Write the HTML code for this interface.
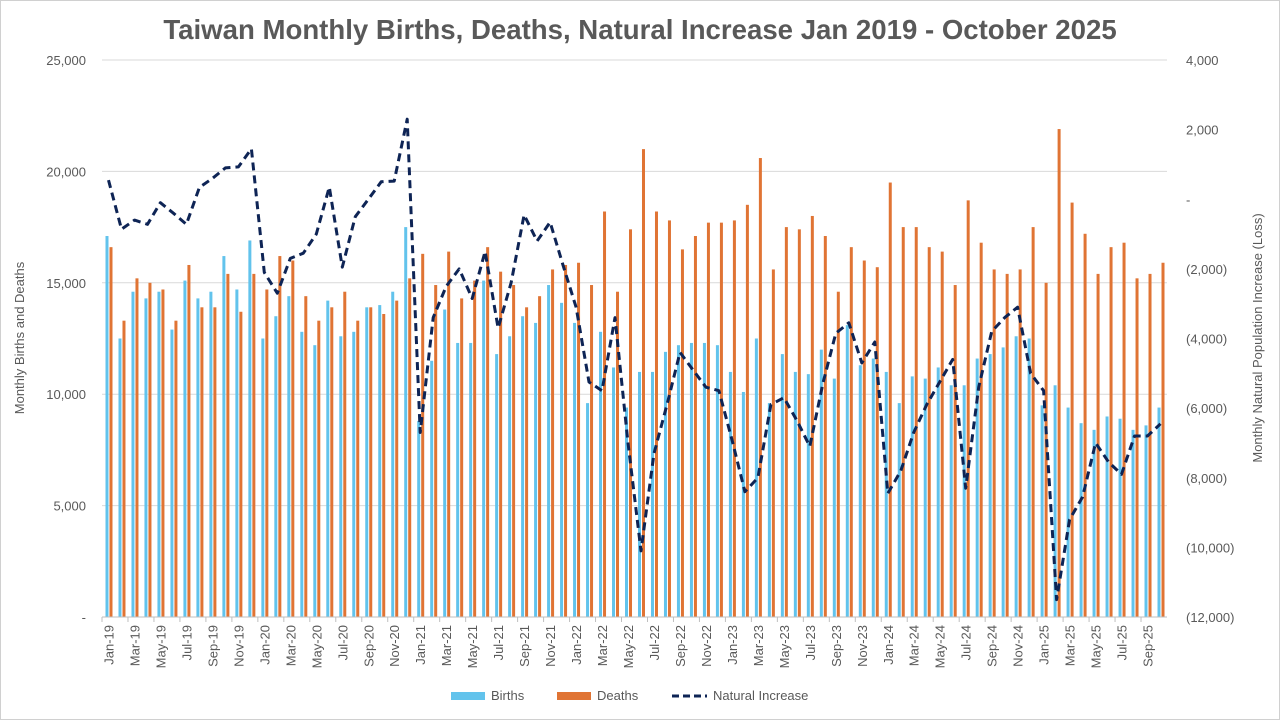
<!DOCTYPE html>
<html><head><meta charset="utf-8"><style>
html,body{margin:0;padding:0;background:#fff}
svg{display:block;font-family:"Liberation Sans",Arial,sans-serif}
</style></head><body>
<svg id="chart" width="1280" height="720" viewBox="0 0 1280 720" xmlns="http://www.w3.org/2000/svg">
<rect x="0.5" y="0.5" width="1279" height="719" fill="#fff" stroke="#d0d0d0"/>
<text x="640" y="39" text-anchor="middle" font-size="27.6" font-weight="bold" fill="#595959">Taiwan Monthly Births, Deaths, Natural Increase Jan 2019 - October 2025</text>
<g id="grid"></g><g id="bars"></g><g id="line"></g><g id="axes"></g>
<text transform="translate(24,338) rotate(-90)" text-anchor="middle" font-size="13" fill="#595959">Monthly Births and Deaths</text>
<text transform="translate(1262,338) rotate(-90)" text-anchor="middle" font-size="13" fill="#595959">Monthly Natural Population Increase (Loss)</text>
<g>
<g><rect x="451" y="692" width="34" height="8" fill="#62c3ec"/><text x="491" y="700" font-size="13" fill="#595959">Births</text></g>
<g><rect x="557" y="692" width="34" height="8" fill="#e07434"/><text x="597" y="700" font-size="13" fill="#595959">Deaths</text></g>
<g><line x1="672" y1="696" x2="707" y2="696" stroke="#0e2455" stroke-width="3" stroke-dasharray="7,4"/><text x="713" y="700" font-size="13" fill="#595959">Natural Increase</text></g>
</g>
</svg>
<script>
const births=[17.1,12.5,14.6,14.3,14.6,12.9,15.1,14.3,14.6,16.2,14.7,16.9,12.5,13.5,14.4,12.8,12.2,14.2,12.6,12.8,13.9,14.0,14.6,17.5,8.8,11.5,13.8,12.3,12.3,15.1,11.8,12.6,13.5,13.2,14.9,14.1,13.2,9.6,12.8,11.2,9.4,11.0,11.0,11.9,12.2,12.3,12.3,12.2,11.0,10.1,12.5,9.6,11.8,11.0,10.9,12.0,10.7,13.1,11.3,11.6,11.0,9.6,10.8,10.7,11.2,10.4,10.4,11.6,11.8,12.1,12.6,12.5,9.5,10.4,9.4,8.7,8.4,9.0,8.9,8.4,8.6,9.4];
const deaths=[16.6,13.3,15.2,15.0,14.7,13.3,15.8,13.9,13.9,15.4,13.7,15.4,14.7,16.2,16.0,14.4,13.3,13.9,14.6,13.3,13.9,13.6,14.2,15.2,16.3,14.9,16.4,14.3,15.1,16.6,15.5,14.9,13.9,14.4,15.6,15.8,15.9,14.9,18.2,14.6,17.4,21.0,18.2,17.8,16.5,17.1,17.7,17.7,17.8,18.5,20.6,15.6,17.5,17.4,18.0,17.1,14.6,16.6,16.0,15.7,19.5,17.5,17.5,16.6,16.4,14.9,18.7,16.8,15.6,15.4,15.6,17.5,15.0,21.9,18.6,17.2,15.4,16.6,16.8,15.2,15.4,15.9];
const natural=[0.55,-0.86,-0.6,-0.72,-0.1,-0.4,-0.72,0.34,0.6,0.9,0.93,1.45,-2.1,-2.7,-1.7,-1.55,-1.0,0.35,-1.95,-0.5,0,0.5,0.52,2.3,-6.7,-3.4,-2.5,-2.0,-2.85,-1.5,-3.7,-2.4,-0.45,-1.2,-0.66,-1.9,-3.1,-5.25,-5.5,-3.4,-7.0,-10.1,-7.3,-5.9,-4.4,-4.9,-5.4,-5.5,-6.9,-8.4,-8.0,-5.9,-5.7,-6.35,-7.1,-5.3,-3.85,-3.55,-4.7,-4.1,-8.45,-7.8,-6.7,-5.9,-5.25,-4.6,-8.3,-5.4,-3.8,-3.4,-3.1,-5.0,-5.5,-11.5,-9.2,-8.55,-7.0,-7.55,-7.9,-6.8,-6.8,-6.45];
const leftTicks=[0,5,10,15,20,25];
const leftTickLabels=["-","5,000","10,000","15,000","20,000","25,000"];
const rightTicks=[4,2,0,-2,-4,-6,-8,-10,-12];
const rightTickLabels=["4,000","2,000","-","(2,000)","(4,000)","(6,000)","(8,000)","(10,000)","(12,000)"];
const monthNames=["Jan","Feb","Mar","Apr","May","Jun","Jul","Aug","Sep","Oct","Nov","Dec"];
const categories=[];
for(let i=0;i<82;i++){categories.push(monthNames[i%12]+"-"+(19+Math.floor(i/12)));}

const NS="http://www.w3.org/2000/svg";
const L=102,R=1167,T=60,B=617;
const slot=(R-L)/categories.length;
const xC=i=>L+slot*(i+0.5);
const yL=v=>B-(v/25)*(B-T);
const yR=v=>T+(4-v)/16*(B-T);
function mk(tag,attrs,parent){const e=document.createElementNS(NS,tag);for(const k in attrs)e.setAttribute(k,attrs[k]);parent.appendChild(e);return e;}
const grid=document.getElementById('grid'),bars=document.getElementById('bars'),line=document.getElementById('line'),axes=document.getElementById('axes');
leftTicks.forEach((v,i)=>{
  const g=mk('line',{x1:L,x2:R,y1:yL(v),y2:yL(v),stroke:'#d9d9d9','stroke-width':1},grid);
  
  
  const t=mk('text',{x:86,y:yL(v)+5,'text-anchor':'end','font-size':13,fill:'#595959'},axes);
  t.textContent=leftTickLabels[i];
  
  
});
rightTicks.forEach((v,i)=>{
  const t=mk('text',{x:1186,y:yR(v)+5,'font-size':13,fill:'#595959'},axes);
  t.textContent=rightTickLabels[i];
  
  
});
categories.forEach((c,i)=>{
  const b=mk('rect',{x:xC(i)-3,y:yL(births[i]),width:3,height:B-yL(births[i]),fill:'#62c3ec'},bars);
  
  
  const d=mk('rect',{x:xC(i)+1,y:yL(deaths[i]),width:3,height:B-yL(deaths[i]),fill:'#e07434'},bars);
  
  
  if(i%2===0){
    const tk=mk('line',{x1:L+slot*i,x2:L+slot*i,y1:B,y2:B+5,stroke:'#bfbfbf'},axes);
    
    
    const t=mk('text',{transform:`translate(${xC(i)+5},${B+8}) rotate(-90)`,'text-anchor':'end','font-size':13,fill:'#595959'},axes);
    t.textContent=c;
    
    
  }
});
const ax=mk('line',{x1:L,x2:R,y1:B,y2:B,stroke:'#bfbfbf'},axes);


const pts=natural.map((v,i)=>xC(i).toFixed(1)+","+yR(v).toFixed(1)).join(" ");
const pl=mk('polyline',{points:pts,fill:'none',stroke:'#0e2455','stroke-width':3,'stroke-dasharray':'8,5','stroke-linejoin':'round'},line);


</script>
</body></html>
